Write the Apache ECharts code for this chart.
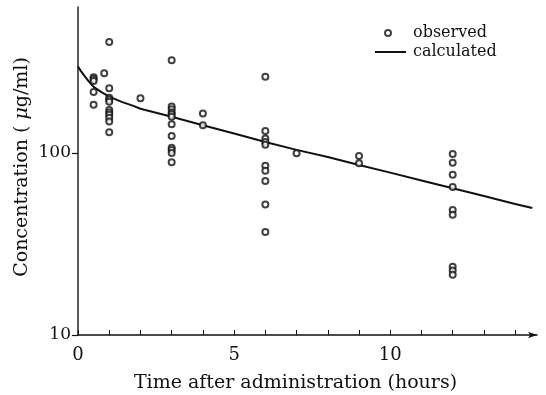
<!DOCTYPE html>
<html>
<head>
<meta charset="utf-8">
<script src="https://cdn.jsdelivr.net/npm/echarts@6/dist/echarts.min.js"></script>
<style>
  html, body { margin: 0; padding: 0; background: #fff; }
  #main { width: 546px; height: 395px; }
</style>
</head>
<body>
<div id="main"></div>
<script>
// observed samples (hours, ug/ml)
var obsTime = [
  0.5, 0.5, 0.5, 0.5, 0.5,
  0.84,
  1, 1, 1, 1, 1, 1, 1, 1, 1, 1, 1,
  2,
  3, 3, 3, 3, 3, 3, 3, 3, 3, 3, 3, 3,
  4, 4,
  6, 6, 6, 6, 6, 6, 6, 6, 6, 6,
  7,
  9, 9,
  12, 12, 12, 12, 12, 12, 12, 12, 12
];
var obsConc = [
  261, 255, 249, 216, 184,
  274,
  407, 227, 201, 197, 191, 172, 167, 162, 156, 149, 130,
  200,
  323, 180, 174, 167, 163, 158, 144, 124, 107, 104, 100, 88.9,
  165, 142,
  262, 132, 120, 115, 111, 85.1, 80.0, 70.2, 52.2, 36.8,
  99.6,
  96.3, 87.8,
  98.8, 88.5, 76.0, 65.0, 48.6, 45.8, 23.7, 22.6, 21.4
];

// calculated curve
var calcTime = [0, 0.1, 0.2, 0.35, 0.5, 0.75, 1, 1.4, 1.75, 2, 3, 4, 5, 6, 7, 8, 9, 10, 11, 12, 13, 14, 14.55];
var calcConc = [298, 281, 266, 247, 231, 216, 204, 191, 182, 175, 158, 142, 128, 115, 104, 95, 86, 78, 70.6, 64, 58, 52.5, 49.8];

var xTicks = [0, 1, 2, 3, 4, 5, 6, 7, 8, 9, 10, 11, 12, 13, 14];
var xLabels = [0, 5, 10];
var yTicks = [10, 100];

var obsData = obsTime.map(function (t, i) { return [t, obsConc[i]]; });
var calcData = calcTime.map(function (t, i) { return [t, calcConc[i]]; });

var serif = 'DejaVu Serif';
var chart = echarts.init(document.getElementById('main'));
chart.setOption({
  animation: false,
  backgroundColor: '#fff',
  textStyle: { fontFamily: serif, color: '#111' },
  grid: { left: 78, right: 9, top: 7, bottom: 60, outerBoundsMode: 'none' },
  legend: [{
    data: ['observed'],
    left: 384, top: 25, padding: 0,
    itemWidth: 8, itemHeight: 6,
    textStyle: { fontFamily: serif, fontSize: 16, color: '#111', padding: [0, 0, 0, 16] }
  }, {
    data: [{ name: 'calculated', icon: 'rect' }],
    left: 375, top: 44, padding: 0,
    itemWidth: 31, itemHeight: 2,
    textStyle: { fontFamily: serif, fontSize: 16, color: '#111', padding: [0, 0, 0, 2] }
  }],
  xAxis: {
    type: 'value', min: 0, max: 14.7,
    name: 'Time after administration (hours)',
    nameLocation: 'middle', nameGap: 39, nameMoveOverlap: false,
    nameTextStyle: { fontFamily: serif, fontSize: 19, color: '#111', padding: [0, 24, 0, 0] },
    axisLine: { lineStyle: { color: '#111', width: 1.5 }, symbol: ['none', 'arrow'], symbolSize: [5, 9] },
    axisTick: { inside: true, length: 5, lineStyle: { color: '#111' }, customValues: xTicks },
    axisLabel: { fontFamily: serif, fontSize: 18, color: '#111', margin: 11, customValues: xLabels },
    splitLine: { show: false }
  },
  yAxis: {
    type: 'log', logBase: 10, min: 10, max: 634,
    name: '{n|Concentration ( }{i|μ}{n|g/ml)}',
    nameLocation: 'middle', nameGap: 46, nameRotate: 90, nameMoveOverlap: false,
    nameTextStyle: {
      padding: [0, 0, 0, 8],
      rich: {
        n: { fontFamily: serif, fontSize: 19, color: '#111' },
        i: { fontFamily: serif, fontSize: 19, color: '#111', fontStyle: 'italic' }
      }
    },
    axisLine: { show: true, lineStyle: { color: '#222', width: 1.5 } },
    axisTick: { show: true, length: 6, lineStyle: { color: '#111', width: 1.2 }, customValues: yTicks },
    axisLabel: { fontFamily: serif, fontSize: 17, color: '#111', margin: 7, customValues: yTicks },
    splitLine: { show: false }
  },
  series: [{
    name: 'observed',
    type: 'scatter',
    symbol: 'emptyCircle',
    symbolSize: 6,
    itemStyle: { color: '#111', borderColor: '#111', borderWidth: 1.3 },
    data: obsData,
    z: 3
  }, {
    name: 'calculated',
    type: 'line',
    symbol: 'none',
    smooth: false,
    lineStyle: { color: '#111', width: 2 },
    itemStyle: { color: '#111' },
    data: calcData,
    z: 2
  }]
});
</script>
</body>
</html>
